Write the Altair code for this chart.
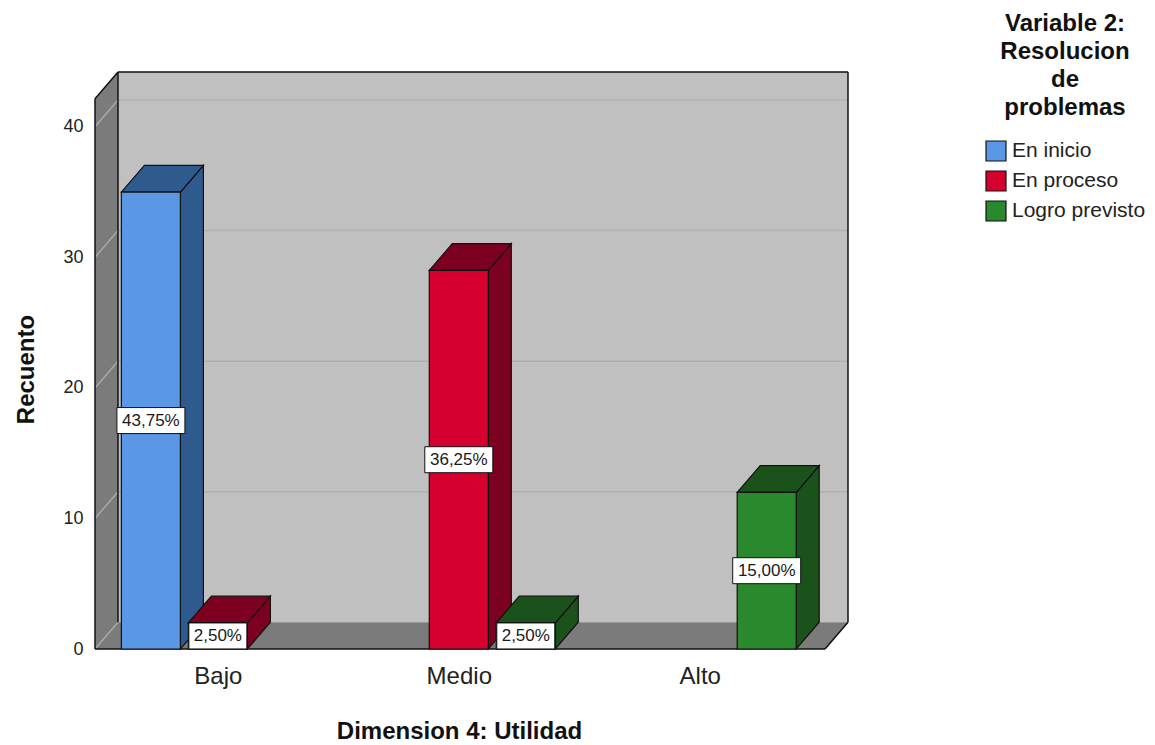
import altair as alt
import pandas as pd

# ---------------- data ----------------
categories = ["Bajo", "Medio", "Alto"]
series = ["En inicio", "En proceso", "Logro previsto"]
en_inicio = [35, 0, 0]
en_proceso = [2, 29, 0]
logro_previsto = [0, 2, 12]
y_ticks = [0, 10, 20, 30, 40]

front_colors = ["#5a97e4", "#d6002f", "#2a892d"]
dark_colors = ["#2f5a8e", "#7c001f", "#1b521b"]

FONT = "Liberation Sans"

# ---------------- 3D geometry (in scale units) ----------------
X0, X1 = -0.51, 2.52      # front plane horizontal extent
DX = 0.0954               # depth shift along x
DY = 2.05                 # depth shift along y
YMAX = 44.2
BAR_W = 0.245
OFFS = [-0.278, 0.0, 0.278]

counts = [en_inicio, en_proceso, logro_previsto]
total = sum(sum(c) for c in counts)

bar_rows, side_rows, top_rows = [], [], []
for si, s in enumerate(series):
    for ci, c in enumerate(categories):
        v = counts[si][ci]
        if v <= 0:
            continue
        xc = ci + OFFS[si]
        xl, xr = xc - BAR_W / 2, xc + BAR_W / 2
        key = f"{s}|{c}"
        bar_rows.append(dict(series=s, category=c, value=v, xl=xl, xr=xr, xc=xc,
                             mid=v / 2,
                             label=f"{100 * v / total:.2f}%".replace(".", ",")))
        side_rows += [dict(bar=key, dark=dark_colors[si], x=xr, y0=0, y1=v),
                      dict(bar=key, dark=dark_colors[si], x=xr + DX, y0=DY, y1=v + DY)]
        top_rows += [dict(bar=key, dark=dark_colors[si], y=v, xa=xl, xb=xr),
                     dict(bar=key, dark=dark_colors[si], y=v + DY, xa=xl + DX, xb=xr + DX)]

bars = pd.DataFrame(bar_rows)
sides = pd.DataFrame(side_rows)
tops = pd.DataFrame(top_rows)

xs = alt.Scale(domain=[X0, X1 + DX], nice=False, zero=False)
ys = alt.Scale(domain=[0, YMAX], nice=False, zero=True)

x_axis = alt.Axis(values=[0, 1, 2],
                  labelExpr="[" + ",".join(f"'{c}'" for c in categories) + "][datum.value]",
                  title="Dimension 4: Utilidad", grid=False, domain=False, ticks=False,
                  tickSize=0, labelPadding=34, labelBaseline="alphabetic",
                  labelFontSize=24, labelFont=FONT, labelColor="#222222",
                  titleFont=FONT, titleFontSize=24, titleFontWeight="bold",
                  titleColor="#111111", titleX=364, titleY=89,
                  titleBaseline="alphabetic", titleAnchor="start", titleAlign="center")
y_axis = alt.Axis(values=y_ticks, title="Recuento", grid=False, domain=False,
                  ticks=False, tickSize=0, labelPadding=12, labelFontSize=18,
                  labelFont=FONT, labelColor="#222222",
                  titleFont=FONT, titleFontSize=24, titleFontWeight="bold",
                  titleColor="#111111", titleAngle=-90, titleX=-62, titleY=297,
                  titleBaseline="alphabetic", titleAlign="center")


def X(field, **kw):
    return alt.X(field, scale=xs, axis=x_axis, **kw)


def Y(field, **kw):
    return alt.Y(field, scale=ys, axis=y_axis, **kw)


# ---------------- walls ----------------
back_wall = alt.Chart(pd.DataFrame([dict(xa=X0 + DX, xb=X1 + DX, ya=DY, yb=YMAX)])).mark_rect(
    color="#c0c0c0").encode(x=X("xa:Q"), x2="xb:Q", y=Y("ya:Q"), y2="yb:Q")

floor = alt.Chart(pd.DataFrame([dict(k=0, y=0, xa=X0, xb=X1),
                                dict(k=0, y=DY, xa=X0 + DX, xb=X1 + DX)])).mark_area(
    orient="horizontal", color="#7b7b7b").encode(
    y=Y("y:Q"), x=X("xa:Q", stack=None), x2="xb:Q")

left_wall = alt.Chart(pd.DataFrame([dict(k=0, x=X0, y0=0, y1=YMAX - DY),
                                    dict(k=0, x=X0 + DX, y0=DY, y1=YMAX)])).mark_area(
    orient="vertical", color="#7b7b7b").encode(
    x=X("x:Q"), y=Y("y1:Q", stack=None), y2="y0:Q")

grid_back = alt.Chart(pd.DataFrame({"t": [t for t in y_ticks if t > 0]})).transform_calculate(
    yy=f"datum.t + {DY}", xa=f"{X0 + DX}", xb=f"{X1 + DX}").mark_rule(
    color="#b0b0b0", strokeWidth=1.5).encode(
    x=X("xa:Q"), x2="xb:Q", y=Y("yy:Q"))

grid_left = alt.Chart(pd.DataFrame({"t": y_ticks})).transform_calculate(
    yb=f"datum.t + {DY}", xa=f"{X0}", xb=f"{X0 + DX}").mark_rule(
    color="#a9a9a9", strokeWidth=1.5).encode(
    x=X("xa:Q"), x2="xb:Q", y=Y("t:Q"), y2="yb:Q")

edges = pd.DataFrame([
    dict(xa=X0, ya=0, xb=X0, yb=YMAX - DY),                 # left wall front edge
    dict(xa=X0 + DX, ya=DY, xb=X0 + DX, yb=YMAX),           # left wall back edge
    dict(xa=X0, ya=YMAX - DY, xb=X0 + DX, yb=YMAX),         # left wall top edge
    dict(xa=X0 + DX, ya=YMAX, xb=X1 + DX, yb=YMAX),         # back wall top
    dict(xa=X1 + DX, ya=DY, xb=X1 + DX, yb=YMAX),           # back wall right
    dict(xa=X0, ya=0, xb=X1, yb=0),                         # floor front
    dict(xa=X1, ya=0, xb=X1 + DX, yb=DY),                   # floor right
])
edge_layer = alt.Chart(edges).mark_rule(color="#111111", strokeWidth=1.5).encode(
    x=X("xa:Q"), x2="xb:Q", y=Y("ya:Q"), y2="yb:Q")

# ---------------- bars ----------------
side_layer = alt.Chart(sides).mark_area(orient="vertical", stroke="#111111", strokeWidth=1.2,
                                        opacity=1).encode(
    x=X("x:Q"), y=Y("y1:Q", stack=None), y2="y0:Q",
    fill=alt.Fill("dark:N", scale=None), detail="bar:N")

top_layer = alt.Chart(tops).mark_area(orient="horizontal", stroke="#111111", strokeWidth=1.2,
                                      opacity=1).encode(
    y=Y("y:Q"), x=X("xa:Q", stack=None), x2="xb:Q",
    fill=alt.Fill("dark:N", scale=None), detail="bar:N")

front_layer = alt.Chart(bars).mark_rect(stroke="#111111", strokeWidth=1.2, opacity=1).encode(
    x=X("xl:Q"), x2="xr:Q",
    y=Y("value:Q"), y2=alt.datum(0),
    color=alt.Color("series:N", scale=alt.Scale(domain=series, range=front_colors),
                    legend=alt.Legend(
                        title=["Variable 2:", "Resolucion", "de", "problemas"],
                        orient="none", legendX=890, legendY=-60,
                        titleFont=FONT, titleFontSize=24, titleFontWeight="bold",
                        titleColor="#111111", titleLineHeight=28, titleAlign="center",
                        titleAnchor="middle", titlePadding=20,
                        labelFont=FONT, labelFontSize=21, labelColor="#222222",
                        symbolType="square", symbolSize=400, symbolStrokeColor="#111111",
                        symbolStrokeWidth=1.2, symbolOpacity=1, rowPadding=4,
                        labelOffset=5, padding=0)))

box_layer = alt.Chart(bars).transform_calculate(
    boxw="10 * length(datum.label) + 8",
    r="26 / (10 * length(datum.label) + 8)",
    shape="'M-1,-' + datum.r + 'L1,-' + datum.r + 'L1,' + datum.r + 'L-1,' + datum.r + 'Z'",
    sz="datum.boxw * datum.boxw").mark_point(
    filled=True, fill="white", stroke="#111111", strokeWidth=1, opacity=1).encode(
    x=X("xc:Q"), y=Y("mid:Q"),
    shape=alt.Shape("shape:N", scale=None),
    size=alt.Size("sz:Q", scale=None))

text_layer = alt.Chart(bars).mark_text(font=FONT, fontSize=17, color="#1a1a1a",
                                       baseline="middle", align="center").encode(
    x=X("xc:Q"), y=Y("mid:Q"), text="label:N")

chart = alt.layer(
    back_wall, floor, left_wall, grid_back, grid_left, edge_layer,
    side_layer, top_layer, front_layer, box_layer, text_layer
).properties(
    width=753, height=577,
    padding={"left": 95, "top": 72, "right": 307, "bottom": 96},
    autosize=alt.AutoSizeParams(type="none"),
    background="white"
).configure_view(stroke=None)

chart.save("out.html", embed_options={"renderer": "svg", "actions": False})
